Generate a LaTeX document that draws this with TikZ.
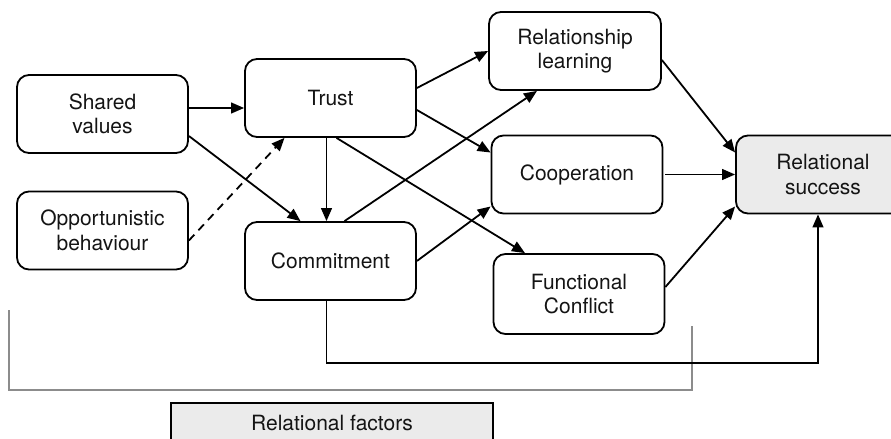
\documentclass[tikz,border=0pt]{standalone}
\usepackage{fontspec}
\setmainfont{TeX Gyre Heros}
\usetikzlibrary{arrows.meta}

\begin{document}
\begin{tikzpicture}[x=0.5pt,y=-0.5pt,
    box/.style={draw, line width=0.9pt, rounded corners=6pt, align=center, minimum width=85.5pt, minimum height=39pt, inner sep=2pt, text=black!92, font=\fontsize{10.5}{12.2}\selectfont},
    greybox/.style={box, fill=black!8},
    arr/.style={line width=0.9pt, -{Triangle[length=6.5pt,width=5.4pt]}}]
\useasboundingbox (0,0) rectangle (891,439);
\clip (0,0) rectangle (891,439);

\node[box] (shared) at (102.5,114) {Shared\\values};
\node[box] (opp) at (102.5,230.5) {Opportunistic\\behaviour};
\node[box] (trust) at (330.5,98) {Trust};
\node[box] (commit) at (330.5,261) {Commitment};
\node[box, minimum width=86pt] (learn) at (575,51) {Relationship\\learning};
\node[box] (coop) at (577,174.5) {Cooperation};
\node[box, minimum height=40pt] (conflict) at (579,294) {Functional\\Conflict};
\node[greybox, minimum width=87pt] (success) at (823,174.5) {Relational\\success};
\node[greybox, rounded corners=0pt, minimum width=161pt, minimum height=20pt] (factors) at (332,423) {Relational factors};

% bracket
\draw[black!45, line width=1pt] (9,310) -- (9,390) -- (692,390) -- (692,326);

% left part
\draw[arr] ([yshift=3pt]shared.east) -- ([yshift=3pt]shared.east -| trust.west);
\draw[arr] ([yshift=-11pt]shared.east) -- ([xshift=-15pt]commit.north);
\draw[arr, dash pattern=on 4pt off 3pt] ([yshift=-5pt]opp.east) -- ([xshift=-23pt]trust.south);
\draw[arr] ([xshift=-2pt]trust.south) -- ([xshift=-2pt]commit.north);

% middle part
\draw[arr] ([yshift=5pt]trust.east) -- (learn.west);
\draw[arr] ([yshift=-6pt]trust.east) -- ([yshift=11pt]coop.west);
\draw[arr] ([xshift=3pt]trust.south) -- ([xshift=-27pt]conflict.north);
\draw[arr] ([xshift=7pt]commit.north) -- ([xshift=-19pt]learn.south);
\draw[arr] (commit.east) -- ([yshift=-16pt]coop.west);
\coordinate (low) at (0,363);
\draw[arr] ([xshift=-2pt]commit.south) |- ([xshift=-2.5pt]low -| success.south) -- ([xshift=-2.5pt]success.south);

% right part
\draw[arr] ([yshift=-4.5pt]learn.east) -- ([yshift=11pt]success.west);
\draw[arr] ([xshift=1pt]coop.east) -- (success.west);
\draw[arr] ([yshift=3.5pt]conflict.east) -- ([yshift=-16pt]success.west);
\end{tikzpicture}
\end{document}
